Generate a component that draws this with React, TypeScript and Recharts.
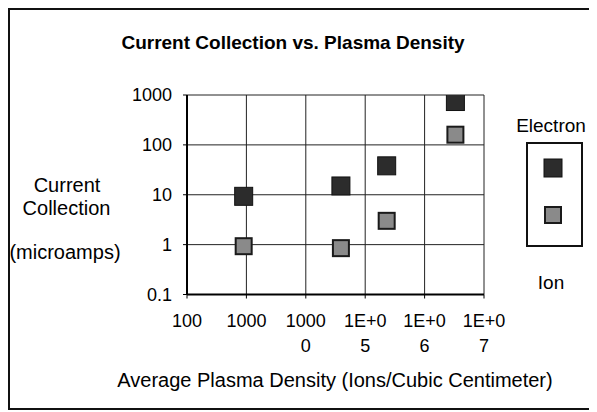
import React from "react";
import { ScatterChart, Scatter, XAxis, YAxis, CartesianGrid } from "recharts";

// ---- data ----
const densities = [900, 39000, 230000, 3300000]; // ions / cm^3
const electronCurrent = [9.3, 15, 38, 740]; // microamps
const ionCurrent = [0.93, 0.85, 3.0, 160]; // microamps
const seriesNames = ["Electron", "Ion"];
const xTicks = [100, 1000, 10000, 100000, 1000000, 10000000];
const xTickLabels: string[][] = [
  ["100"],
  ["1000"],
  ["1000", "0"],
  ["1E+0", "5"],
  ["1E+0", "6"],
  ["1E+0", "7"],
];
const yTicks = [0.1, 1, 10, 100, 1000];
const yTickLabels = ["0.1", "1", "10", "100", "1000"];

const electronData = densities.map((x, i) => ({ x, y: electronCurrent[i] }));
const ionData = densities.map((x, i) => ({ x, y: ionCurrent[i] }));

const FONT = "'Liberation Sans', Arial, Helvetica, sans-serif";
const ELECTRON_FILL = "#2c2c2c";
const ION_FILL = "#8a8a8a";

const SIZE = 18;

const ElectronShape = (p: any) => (
  <rect
    x={p.cx - SIZE / 2}
    y={p.cy - SIZE / 2}
    width={SIZE}
    height={SIZE}
    fill={ELECTRON_FILL}
    stroke="#111"
    strokeWidth={1}
  />
);
const IonShape = (p: any) => (
  <rect
    x={p.cx - SIZE / 2 + 1}
    y={p.cy - SIZE / 2 + 1}
    width={SIZE - 2}
    height={SIZE - 2}
    fill={ION_FILL}
    stroke="#1a1a1a"
    strokeWidth={2}
  />
);

const XTick = (props: any) => {
  const { x, y, payload } = props;
  const idx = xTicks.indexOf(payload.value);
  const lines = idx >= 0 ? xTickLabels[idx] : [String(payload.value)];
  return (
    <text x={x} y={y} textAnchor="middle" fill="#000" fontSize={18} fontFamily={FONT}>
      {lines.map((l, i) => (
        <tspan key={i} x={x} dy={i === 0 ? 26 : 25}>
          {l}
        </tspan>
      ))}
    </text>
  );
};

const yFmt = (v: number) => {
  const i = yTicks.indexOf(v);
  return i >= 0 ? yTickLabels[i] : String(v);
};

const textStyle: React.CSSProperties = {
  position: "absolute",
  fontFamily: FONT,
  color: "#000",
  whiteSpace: "nowrap",
  transform: "translate(-50%, -50%)",
  lineHeight: 1,
};

export default function App() {
  // wrapper placed at page (8,8); all coordinates below are page - 8
  return (
    <div
      style={{
        position: "relative",
        width: 589,
        height: 402,
        fontFamily: FONT,
        background: "#fff",
      }}
    >
      <div
        style={{
          position: "absolute",
          left: 0,
          top: 0,
          width: 589,
          height: 402,
          boxSizing: "border-box",
          border: "2px solid #111",
        }}
      />
      <div style={{ position: "absolute", left: 0, top: 0 }}>
        <ScatterChart
          width={589}
          height={402}
          margin={{ top: 87, left: 119, right: 113, bottom: 55.5 }}
        >
          <CartesianGrid stroke="#222" strokeWidth={1} />
          <XAxis
            dataKey="x"
            type="number"
            scale="log"
            domain={[100, 10000000]}
            ticks={xTicks}
            interval={0}
            allowDataOverflow
            height={60}
            tickSize={4}
            tickMargin={2}
            tick={<XTick />}
            axisLine={{ stroke: "#000", strokeWidth: 2 }}
            tickLine={{ stroke: "#000" }}
          />
          <YAxis
            dataKey="y"
            type="number"
            scale="log"
            domain={[0.1, 1000]}
            ticks={yTicks}
            interval={0}
            allowDataOverflow
            width={60}
            tickSize={4}
            tickMargin={11}
            tickFormatter={yFmt}
            tick={{ fill: "#000", fontSize: 18, fontFamily: FONT }}
            axisLine={{ stroke: "#000", strokeWidth: 2 }}
            tickLine={{ stroke: "#000" }}
          />
          <Scatter
            name={seriesNames[0]}
            data={electronData}
            shape={ElectronShape}
            isAnimationActive={false}
          />
          <Scatter
            name={seriesNames[1]}
            data={ionData}
            shape={IonShape}
            isAnimationActive={false}
          />
        </ScatterChart>
      </div>

      {/* title */}
      <div style={{ ...textStyle, left: 285, top: 34, fontSize: 19, fontWeight: "bold" }}>
        Current Collection vs. Plasma Density
      </div>

      {/* y axis title */}
      <div style={{ ...textStyle, left: 59, top: 177, fontSize: 20 }}>Current</div>
      <div style={{ ...textStyle, left: 58.5, top: 200, fontSize: 20 }}>Collection</div>
      <div style={{ ...textStyle, left: 57, top: 244, fontSize: 20 }}>(microamps)</div>

      {/* x axis title */}
      <div style={{ ...textStyle, left: 327, top: 372, fontSize: 20 }}>
        Average Plasma Density (Ions/Cubic Centimeter)
      </div>

      {/* legend */}
      <div style={{ ...textStyle, left: 543, top: 117, fontSize: 19 }}>{seriesNames[0]}</div>
      <div
        style={{
          position: "absolute",
          left: 518,
          top: 134,
          width: 57,
          height: 105,
          boxSizing: "border-box",
          border: "2px solid #111",
          background: "#fff",
        }}
      >
        <svg width={53} height={101} style={{ position: "absolute", left: 0, top: 0 }}>
          <ElectronShape cx={25} cy={24} />
          <IonShape cx={25} cy={71} />
        </svg>
      </div>
      <div style={{ ...textStyle, left: 543, top: 274, fontSize: 19 }}>{seriesNames[1]}</div>
    </div>
  );
}
